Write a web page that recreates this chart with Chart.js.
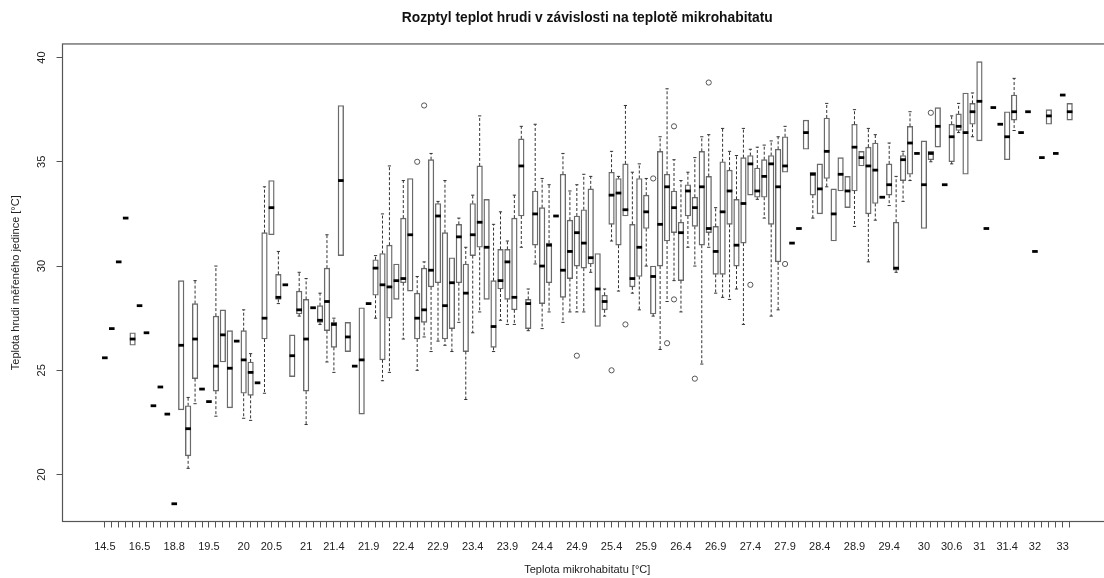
<!DOCTYPE html>
<html lang="cs">
<head>
<meta charset="utf-8">
<title>Rozptyl teplot hrudi</title>
<script src="https://cdn.jsdelivr.net/npm/chart.js@4/dist/chart.umd.min.js"></script>
<style>
    html, body { margin: 0; padding: 0; background: #fff; overflow: hidden; }
    canvas { display: block; }
</style>
</head>
<body>
<canvas id="boxChart" width="1120" height="578"></canvas>
<script>
// microhabitat temperature groups (°C), one box each
const CATEGORIES = [
    '14.5', '15', '15.5', '15.8', '16.2', '16.5', '16.8', '17', '17.5', '18.5',
    '18.8', '18.9', '19', '19.1', '19.3', '19.5', '19.6', '19.7', '19.8', '19.9',
    '20', '20.1', '20.2', '20.3', '20.5', '20.6', '20.7', '20.8', '20.9', '21',
    '21.1', '21.2', '21.3', '21.4', '21.5', '21.6', '21.7', '21.8', '21.9', '22',
    '22.1', '22.2', '22.3', '22.4', '22.5', '22.6', '22.7', '22.8', '22.9', '23',
    '23.1', '23.2', '23.3', '23.4', '23.5', '23.6', '23.7', '23.8', '23.9', '24',
    '24.1', '24.2', '24.3', '24.4', '24.5', '24.6', '24.7', '24.8', '24.9', '25',
    '25.1', '25.2', '25.3', '25.4', '25.5', '25.6', '25.7', '25.8', '25.9', '26',
    '26.1', '26.2', '26.3', '26.4', '26.5', '26.6', '26.7', '26.8', '26.9', '27',
    '27.1', '27.2', '27.3', '27.4', '27.5', '27.6', '27.7', '27.8', '27.9', '28',
    '28.1', '28.2', '28.3', '28.4', '28.5', '28.6', '28.7', '28.8', '28.9', '29',
    '29.1', '29.2', '29.3', '29.4', '29.5', '29.6', '29.7', '29.8', '30', '30.1',
    '30.2', '30.4', '30.6', '30.7', '30.8', '30.9', '31', '31.1', '31.2', '31.3',
    '31.4', '31.5', '31.6', '31.8', '32', '32.2', '32.4', '32.7', '33', '33.2'
];

// labels that fit under the axis
const SHOWN_LABELS = [
    '14.5', '16.5', '18.8', '19.5', '20', '20.5', '21', '21.4', '21.9', '22.4',
    '22.9', '23.4', '23.9', '24.4', '24.9', '25.4', '25.9', '26.4', '26.9', '27.4',
    '27.9', '28.4', '28.9', '29.4', '30', '30.6', '31', '31.4', '32', '33'
];

const Y_TICKS = [20, 25, 30, 35, 40];

// lower whisker end
const LOWER = [
    25.6, 27.0, 30.2, 32.3, 26.2, 28.1, 26.8, 23.3, 24.2, 22.9,
    18.6, 23.1, 20.3, 23.4, 24.1, 23.5, 22.8, 25.4, 23.2, 26.4,
    22.7, 22.6, 24.4, 23.9, 31.5, 28.2, 29.1, 24.7, 27.6, 22.4,
    28.0, 27.2, 25.4, 24.9, 30.5, 25.9, 25.2, 22.9, 28.2, 27.5,
    24.5, 24.9, 28.4, 26.5, 28.8, 25.0, 26.6, 25.9, 26.4, 26.2,
    25.9, 27.3, 23.6, 26.8, 27.8, 28.4, 25.9, 27.4, 27.2, 27.2,
    30.9, 26.9, 30.1, 27.0, 27.8, 32.4, 27.3, 27.8, 27.8, 27.8,
    29.7, 27.1, 27.6, 31.2, 28.8, 32.4, 28.7, 27.9, 30.0, 27.6,
    26.0, 28.3, 29.3, 27.8, 30.9, 30.0, 25.3, 30.9, 28.7, 28.5,
    28.4, 28.9, 27.2, 33.4, 33.2, 32.3, 27.6, 27.9, 34.5, 31.1,
    31.8, 35.6, 32.3, 32.5, 33.8, 31.2, 33.6, 32.8, 31.9, 34.8,
    30.2, 32.2, 33.3, 32.9, 29.7, 33.1, 34.1, 35.4, 31.8, 35.0,
    35.7, 33.9, 34.9, 36.4, 34.4, 36.2, 36.0, 31.8, 37.6, 36.8,
    35.1, 36.5, 36.4, 37.4, 30.7, 35.2, 36.8, 35.4, 38.2, 37.0
];

// lower hinge
const Q1 = [
    25.6, 27.0, 30.2, 32.3, 26.2, 28.1, 26.8, 23.3, 24.2, 22.9,
    18.6, 23.1, 20.9, 24.6, 24.1, 23.5, 24.0, 25.4, 23.2, 26.4,
    23.9, 23.8, 24.4, 26.5, 31.5, 28.4, 29.1, 24.7, 27.7, 24.0,
    28.0, 27.3, 26.9, 26.1, 30.5, 25.9, 25.2, 22.9, 28.2, 28.6,
    25.5, 27.5, 28.4, 29.2, 28.8, 26.5, 27.3, 29.0, 29.2, 26.5,
    27.0, 29.2, 25.9, 30.5, 30.9, 28.4, 26.1, 28.9, 28.4, 27.9,
    32.4, 27.0, 31.0, 28.2, 29.2, 32.4, 28.5, 29.4, 30.0, 29.9,
    30.1, 27.1, 27.9, 32.0, 31.0, 32.4, 29.0, 29.5, 31.8, 27.7,
    30.0, 31.2, 31.6, 29.3, 32.4, 31.9, 31.0, 31.6, 29.6, 29.6,
    32.0, 30.0, 31.1, 33.4, 33.3, 33.3, 32.0, 30.2, 34.5, 31.1,
    31.8, 35.6, 33.4, 32.5, 34.2, 31.2, 33.6, 32.8, 33.6, 34.8,
    32.5, 33.0, 33.3, 33.4, 29.8, 34.1, 34.4, 35.4, 31.8, 35.1,
    35.7, 33.9, 35.0, 36.5, 34.4, 36.8, 36.0, 31.8, 37.6, 36.8,
    35.1, 37.0, 36.4, 37.4, 30.7, 35.2, 36.8, 35.4, 38.2, 37.0
];

const MEDIAN = [
    25.6, 27.0, 30.2, 32.3, 26.5, 28.1, 26.8, 23.3, 24.2, 22.9,
    18.6, 26.2, 22.2, 26.5, 24.1, 23.5, 25.2, 26.7, 25.1, 26.4,
    25.5, 24.9, 24.4, 27.5, 32.8, 28.5, 29.1, 25.7, 27.9, 26.5,
    28.0, 27.4, 28.3, 27.2, 34.1, 26.6, 25.2, 25.5, 28.2, 29.9,
    29.1, 29.0, 29.3, 29.4, 31.5, 27.5, 27.9, 29.8, 32.4, 28.1,
    29.2, 31.4, 28.7, 31.5, 32.1, 30.9, 27.1, 29.3, 30.2, 28.5,
    34.8, 28.2, 32.5, 30.0, 31.0, 32.4, 29.8, 30.7, 31.6, 31.1,
    30.4, 28.9, 28.3, 33.4, 33.5, 32.7, 29.4, 30.9, 32.6, 29.5,
    32.0, 33.8, 32.8, 31.6, 33.6, 32.8, 33.8, 31.8, 30.7, 32.6,
    33.6, 31.0, 33.0, 34.9, 33.6, 34.3, 34.9, 33.8, 34.8, 31.1,
    31.8, 36.4, 34.4, 33.7, 35.5, 32.5, 34.4, 33.6, 35.7, 35.2,
    34.8, 34.6, 33.3, 33.9, 29.9, 35.1, 35.9, 35.4, 33.9, 35.4,
    36.7, 33.9, 36.2, 36.7, 36.4, 37.4, 37.9, 31.8, 37.6, 36.8,
    36.2, 37.4, 36.4, 37.4, 30.7, 35.2, 37.2, 35.4, 38.2, 37.4
];

// upper hinge
const Q3 = [
    25.6, 27.0, 30.2, 32.3, 26.8, 28.1, 26.8, 23.3, 24.2, 22.9,
    18.6, 29.3, 23.3, 28.2, 24.1, 23.5, 27.6, 27.9, 26.9, 26.4,
    26.9, 25.4, 24.4, 31.6, 34.1, 29.6, 29.1, 26.7, 28.8, 28.4,
    28.0, 28.1, 29.9, 27.3, 37.7, 27.3, 25.2, 28.0, 28.2, 30.3,
    30.6, 31.0, 30.1, 32.3, 34.2, 28.7, 29.9, 35.1, 33.0, 31.6,
    30.4, 32.0, 30.1, 33.0, 34.8, 33.2, 29.3, 30.8, 30.8, 32.3,
    36.1, 28.4, 33.6, 32.8, 31.1, 32.4, 34.4, 32.2, 32.4, 32.7,
    33.7, 30.6, 28.6, 34.5, 34.2, 34.9, 32.0, 34.2, 33.4, 30.0,
    35.5, 34.4, 33.6, 32.1, 33.9, 33.3, 35.5, 34.3, 31.9, 35.0,
    34.6, 33.2, 35.2, 35.3, 34.7, 35.1, 35.3, 35.6, 36.2, 31.1,
    31.8, 37.0, 34.5, 34.9, 37.1, 33.7, 35.2, 34.3, 36.8, 35.5,
    35.7, 35.9, 33.3, 34.9, 32.1, 35.3, 36.7, 35.4, 36.0, 35.5,
    37.6, 33.9, 36.8, 37.3, 38.3, 37.8, 39.8, 31.8, 37.6, 36.8,
    37.4, 38.2, 36.4, 37.4, 30.7, 35.2, 37.5, 35.4, 38.2, 37.8
];

// upper whisker end
const UPPER = [
    25.6, 27.0, 30.2, 32.3, 26.8, 28.1, 26.8, 23.3, 24.2, 22.9,
    18.6, 29.3, 23.7, 29.3, 24.1, 23.5, 30.0, 27.9, 26.9, 26.4,
    27.9, 25.8, 24.4, 33.8, 34.1, 30.7, 29.1, 26.7, 29.7, 29.4,
    28.0, 28.7, 31.5, 27.5, 37.7, 27.3, 25.2, 28.0, 28.2, 30.5,
    32.5, 34.8, 30.1, 34.1, 34.2, 29.5, 30.2, 35.4, 33.1, 34.1,
    30.4, 32.3, 30.9, 33.4, 37.2, 33.2, 32.0, 32.6, 31.2, 33.4,
    36.7, 28.9, 36.8, 34.2, 33.9, 32.4, 35.4, 33.6, 33.9, 34.4,
    34.3, 30.6, 28.9, 35.5, 34.3, 37.7, 34.5, 34.9, 34.2, 30.0,
    36.2, 38.5, 35.1, 34.1, 34.5, 35.2, 36.2, 36.3, 32.8, 36.6,
    35.5, 35.3, 36.6, 35.6, 35.7, 35.8, 36.0, 36.2, 36.7, 31.1,
    31.8, 37.0, 34.5, 34.9, 37.8, 33.7, 35.2, 34.3, 37.5, 35.5,
    36.6, 36.3, 33.3, 35.9, 34.3, 35.5, 37.4, 35.4, 36.0, 35.5,
    37.6, 33.9, 37.2, 37.8, 38.3, 38.3, 39.8, 31.8, 37.6, 36.8,
    37.4, 39.0, 36.4, 37.4, 30.7, 35.2, 37.5, 35.4, 38.2, 37.8
];

// points beyond the whiskers: group index and value
const OUTLIER_CAT = [45, 46, 68, 73, 75, 79, 81, 82, 82, 85, 87, 93, 98, 119];
const OUTLIER_VAL = [35.0, 37.7, 25.7, 25.0, 27.2, 34.2, 26.3, 36.7, 28.4, 24.6, 38.8, 29.1, 30.1, 37.35];

const FONT = '"Liberation Sans", Arial, sans-serif';
const BOX_WIDTH = 5.6;

Chart.defaults.font.family = FONT;
Chart.defaults.color = '#222';

// whiskers with staples and the thick median bar
const whiskerPlugin = {
    id: 'whiskers',
    afterDatasetsDraw(chart) {
        const { ctx, scales: { x, y } } = chart;
        const half = BOX_WIDTH / 2;
        ctx.save();
        CATEGORIES.forEach((_, i) => {
            const cx = x.getPixelForValue(i);
            [[Q3[i], UPPER[i]], [Q1[i], LOWER[i]]].forEach(([from, to]) => {
                if (from === to) return;
                const y0 = y.getPixelForValue(from);
                const y1 = y.getPixelForValue(to);
                ctx.strokeStyle = '#333';
                ctx.lineWidth = 1;
                ctx.setLineDash([3, 2]);
                ctx.beginPath();
                ctx.moveTo(cx, y0);
                ctx.lineTo(cx, y1);
                ctx.stroke();
                ctx.setLineDash([]);
                ctx.beginPath();
                ctx.moveTo(cx - 1.6, y1);
                ctx.lineTo(cx + 1.6, y1);
                ctx.stroke();
            });
            const ym = y.getPixelForValue(MEDIAN[i]);
            ctx.strokeStyle = '#000';
            ctx.lineWidth = 2.8;
            ctx.beginPath();
            ctx.moveTo(cx - half, ym);
            ctx.lineTo(cx + half, ym);
            ctx.stroke();
        });
        ctx.restore();
    }
};

// box() round the plotting region
const framePlugin = {
    id: 'frame',
    afterDraw(chart) {
        const { ctx, chartArea: a } = chart;
        ctx.save();
        ctx.strokeStyle = '#555';
        ctx.lineWidth = 1.2;
        ctx.strokeRect(a.left, a.top, a.right - a.left, a.bottom - a.top);
        ctx.restore();
    }
};

const boxData = [];
CATEGORIES.forEach((_, i) => {
    if (Q3[i] > Q1[i]) boxData.push({ x: i, y: [Q1[i], Q3[i]] });
});
const outlierData = OUTLIER_CAT.map((c, k) => ({ x: c, y: OUTLIER_VAL[k] }));

new Chart(document.getElementById('boxChart'), {
    type: 'bar',
    data: {
        datasets: [
            {
                data: boxData,
                backgroundColor: '#fff',
                borderColor: '#6a6a6a',
                borderWidth: 1.4,
                borderSkipped: false,
                barThickness: BOX_WIDTH
            },
            {
                type: 'scatter',
                data: outlierData,
                pointStyle: 'circle',
                pointRadius: 2.6,
                borderColor: '#555',
                borderWidth: 1,
                backgroundColor: 'rgba(0,0,0,0)'
            }
        ]
    },
    options: {
        responsive: false,
        animation: false,
        layout: { padding: { right: 8 } },
        plugins: {
            legend: { display: false },
            tooltip: { enabled: false },
            title: {
                display: true,
                fullSize: false,
                text: 'Rozptyl teplot hrudi v závislosti na teplotě mikrohabitatu',
                color: '#111',
                font: { size: 13.8, weight: 'bold', lineHeight: 1.2 },
                padding: { top: 9.5, bottom: 17.9 }
            }
        },
        scales: {
            x: {
                type: 'linear',
                min: -6.1,
                max: 145.1,
                offset: false,
                afterBuildTicks: scale => {
                    scale.ticks = CATEGORIES.map((_, i) => ({ value: i }));
                },
                afterFit: scale => { scale.height = 56.5; },
                ticks: {
                    autoSkip: false,
                    minRotation: 0,
                    maxRotation: 0,
                    padding: 13,
                    font: { size: 11 },
                    color: '#222',
                    callback: value => {
                        const label = CATEGORIES[Math.round(value)];
                        return SHOWN_LABELS.includes(label) ? label : '';
                    }
                },
                grid: { drawOnChartArea: false, drawTicks: true, tickLength: 6, color: '#555', offset: false },
                border: { display: false },
                title: {
                    display: true,
                    text: 'Teplota mikrohabitatu [°C]',
                    font: { size: 11, lineHeight: 1.2 },
                    color: '#222',
                    padding: { top: 0, bottom: 1.4 }
                }
            },
            y: {
                type: 'linear',
                min: 17.75,
                max: 40.65,
                afterBuildTicks: scale => {
                    scale.ticks = Y_TICKS.map(v => ({ value: v }));
                },
                afterFit: scale => { scale.width = 62.5; },
                ticks: {
                    minRotation: 90,
                    maxRotation: 90,
                    crossAlign: 'center',
                    padding: 8,
                    font: { size: 11 },
                    color: '#222'
                },
                grid: { drawOnChartArea: false, drawTicks: true, tickLength: 6, color: '#555' },
                border: { display: false },
                title: {
                    display: true,
                    text: 'Teplota hrudi měřeného jedince [°C]',
                    font: { size: 11, lineHeight: 1.2 },
                    color: '#222',
                    padding: { top: 9.4, bottom: 0 }
                }
            }
        }
    },
    plugins: [whiskerPlugin, framePlugin]
});
</script>
</body>
</html>
